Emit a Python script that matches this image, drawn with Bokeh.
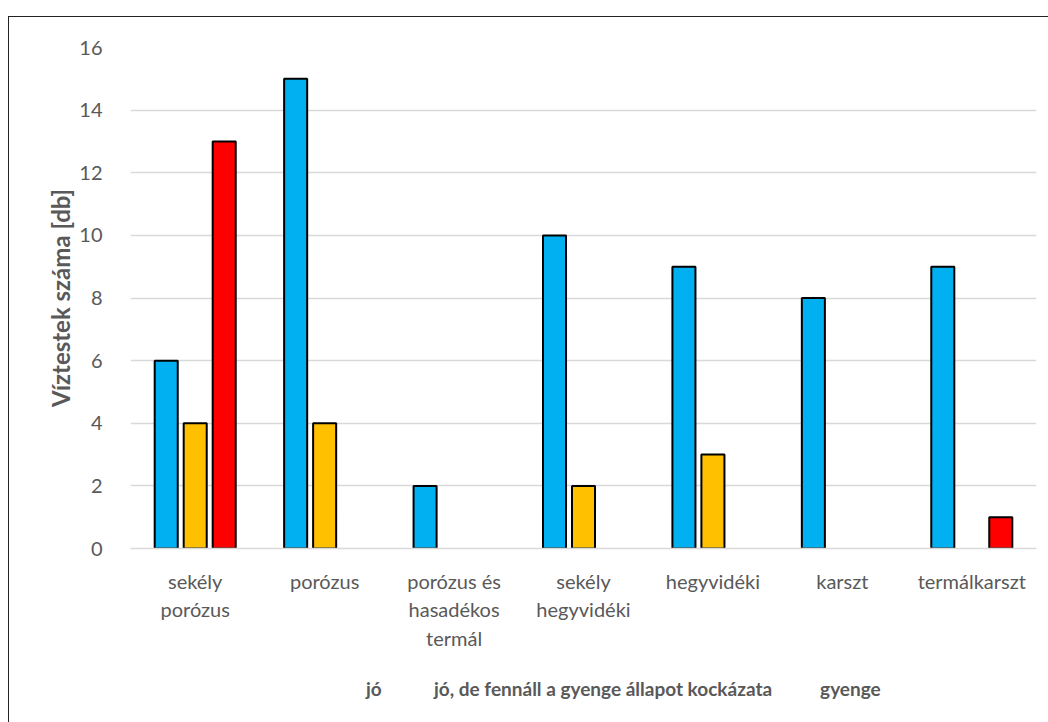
from bokeh.plotting import figure
from bokeh.layouts import column
from bokeh.models import ColumnDataSource, Range1d, FactorRange, SingleIntervalTicker, Legend, LegendItem
from bokeh.transform import dodge
from bokeh.embed import file_html
from bokeh.resources import INLINE

categories = ["sekély\nporózus", "porózus", "porózus és\nhasadékos\ntermál",
              "sekély\nhegyvidéki", "hegyvidéki", "karszt", "termálkarszt"]
series_names = ["jó", "jó, de fennáll a gyenge állapot kockázata", "gyenge"]
jo = [6, 15, 2, 10, 9, 8, 9]
kockazat = [4, 4, 0, 2, 3, 0, 0]
gyenge = [13, 0, 0, 0, 0, 0, 1]
colors = ["#00B0F0", "#FFC000", "#FF0000"]
offsets = [-0.224, 0.0, 0.224]

FONT = "Lato"
GRAY = "#595959"
BORDER = "1.5px solid #222"

p = figure(x_range=FactorRange(*categories, range_padding=0), y_range=Range1d(0, 16),
           width=1040, height=649, output_backend="svg", toolbar_location=None,
           min_border_left=121, min_border_right=13, min_border_top=30, min_border_bottom=118)
p.styles = {"margin-left": "8px", "margin-top": "16px",
            "border-left": BORDER, "border-top": BORDER}
p.outline_line_color = None
p.background_fill_color = "white"

for name, vals, col, off in zip(series_names, [jo, kockazat, gyenge], colors, offsets):
    xs = [c for c, v in zip(categories, vals) if v > 0]
    ys = [v for v in vals if v > 0]
    src = ColumnDataSource(dict(x=xs, top=ys))
    p.vbar(x=dodge("x", off, range=p.x_range), top="top", bottom=0, width=0.178, source=src,
           fill_color=col, line_color="black", line_width=2)

p.xgrid.grid_line_color = None
p.ygrid.grid_line_color = "#D9D9D9"
p.ygrid.grid_line_width = 1.5

p.yaxis.ticker = SingleIntervalTicker(interval=2)
p.yaxis.axis_line_color = None
p.yaxis.major_tick_line_color = None
p.yaxis.minor_tick_line_color = None
p.yaxis.major_label_text_font = FONT
p.yaxis.major_label_text_font_size = "20px"
p.yaxis.major_label_text_color = GRAY
p.yaxis.major_label_standoff = 22
p.yaxis.axis_label = "Víztestek száma [db]"
p.yaxis.axis_label_text_font = FONT
p.yaxis.axis_label_text_font_size = "24px"
p.yaxis.axis_label_text_font_style = "bold"
p.yaxis.axis_label_text_color = GRAY
p.yaxis.axis_label_standoff = 1

p.xaxis.axis_line_color = "#D9D9D9"
p.xaxis.axis_line_width = 1.5
p.xaxis.major_tick_line_color = None
p.xaxis.minor_tick_line_color = None
p.xaxis.major_label_text_font = FONT
p.xaxis.major_label_text_font_size = "20px"
p.xaxis.major_label_text_color = GRAY
p.xaxis.major_label_text_line_height = 1.2
p.xaxis.major_label_standoff = 14

# legend strip below the chart
lg = figure(width=1040, height=57, output_backend="svg", toolbar_location=None,
            x_range=Range1d(0, 1), y_range=Range1d(0, 1),
            x_axis_location=None, y_axis_location=None,
            min_border_left=0, min_border_right=0, min_border_top=0, min_border_bottom=0)
lg.styles = {"margin-left": "8px", "border-left": BORDER}
lg.outline_line_color = None
lg.grid.visible = False

items = []
for name, col in zip(series_names, colors):
    r = lg.vbar(x=[], top=[], width=0.1, fill_color=col, line_color="black", line_width=2)
    items.append(LegendItem(label=name, renderers=[r]))

legend = Legend(items=items, orientation="horizontal", location=(218, 22),
                glyph_width=14, glyph_height=14, label_standoff=4, spacing=30,
                label_text_font=FONT, label_text_font_size="19px", label_text_font_style="bold",
                label_text_color=GRAY, border_line_color=None, background_fill_alpha=0,
                padding=0, margin=0)
lg.add_layout(legend, "center")

layout = column(p, lg, spacing=0)
open("out.html", "w").write(file_html(layout, INLINE))
